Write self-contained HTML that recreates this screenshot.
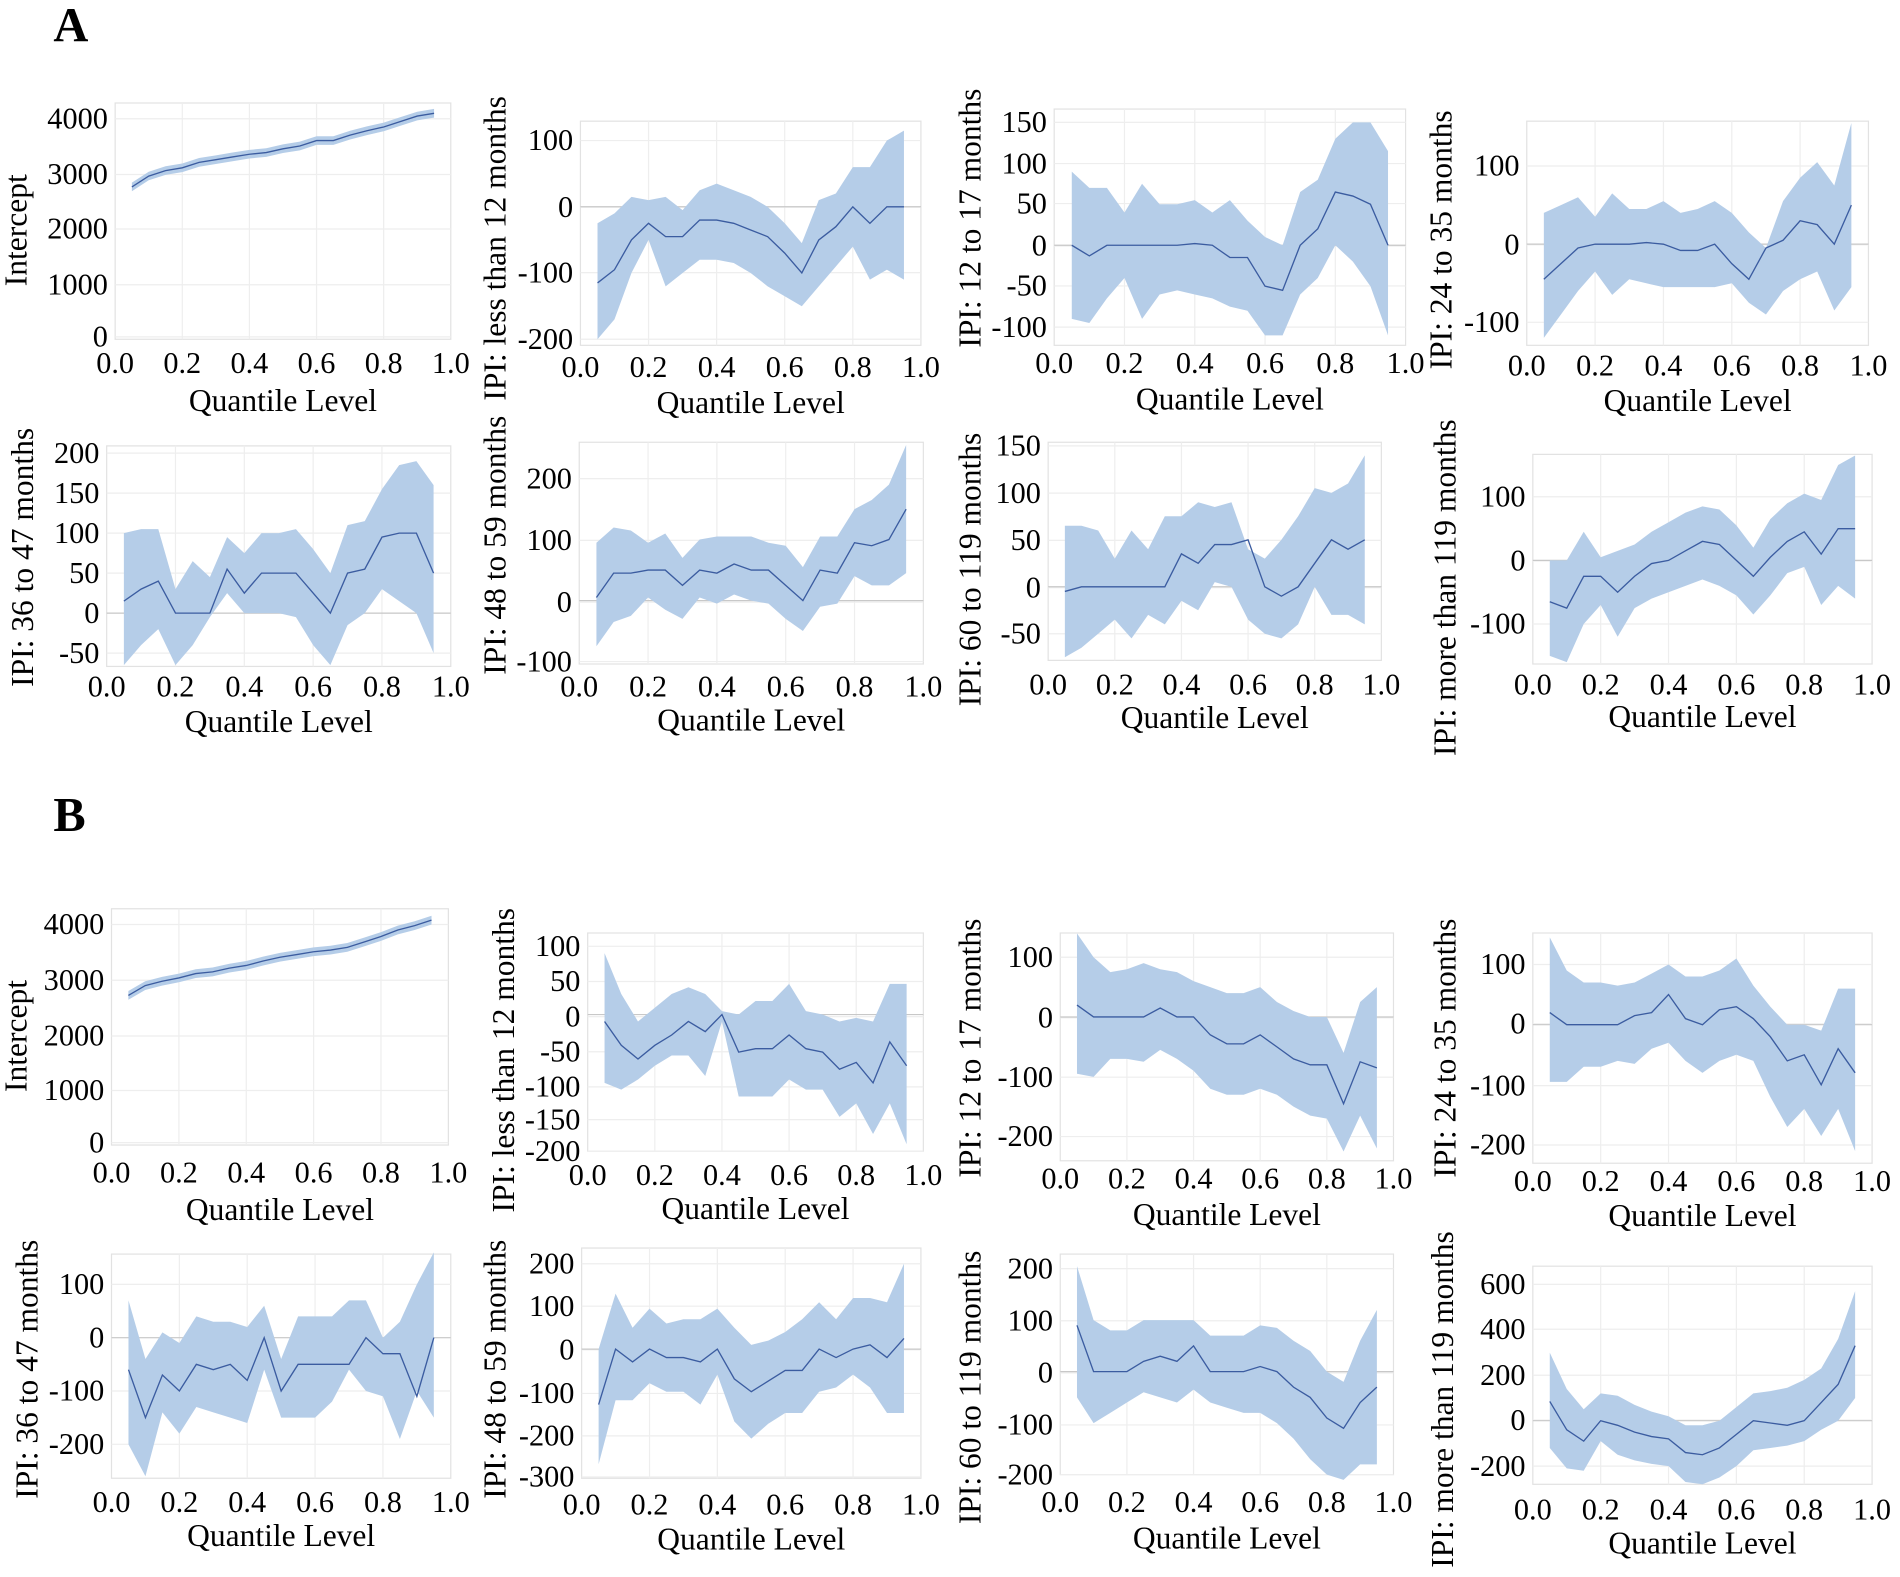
<!DOCTYPE html>
<html><head><meta charset="utf-8">
<style>html,body{margin:0;padding:0;background:#fff}svg{display:block}svg text{font-family:"Liberation Serif",serif}</style>
</head><body>
<svg id="s" xmlns="http://www.w3.org/2000/svg" width="1900" height="1577" viewBox="0 0 1568 1301.5" font-family="Liberation Serif, serif">
<text x="44" y="34" font-size="40" font-weight="bold">A</text>
<text x="44" y="686" font-size="40" font-weight="bold">B</text>
</svg>
<script>
var P=[
{x0:95,x1:372,yt:85,yb:280,t:[[4000,98],[3000,144],[2000,189],[1000,235],[0,278]],lab:"Intercept",lx:13,ly:190,xt:300,xl:331,
m:[2750,2950,3050,3100,3200,3250,3300,3350,3380,3450,3500,3600,3600,3700,3780,3850,3950,4050,4100],w:80},
{x0:479,x1:760,yt:100,yb:285,t:[[100,116],[0,171],[-100,225],[-200,280]],lab:"IPI: less than 12 months",lx:408,ly:205,xt:303,xl:333,
m:[-115,-95,-50,-25,-45,-45,-20,-20,-25,-35,-45,-70,-100,-50,-30,0,-25,0,0],
lo:[-200,-170,-100,-50,-120,-100,-80,-80,-85,-100,-120,-135,-150,-120,-90,-60,-110,-95,-110],
hi:[-25,-10,15,10,15,-5,25,35,25,15,0,-25,-55,10,20,60,60,100,115]},
{x0:870,x1:1160,yt:90,yb:285,t:[[150,101],[100,135],[50,168],[0,203],[-50,236],[-100,270]],lab:"IPI: 12 to 17 months",lx:800,ly:180,xt:300,xl:330,
m:[0,-13,0,0,0,0,0,2,0,-15,-15,-50,-55,0,20,65,60,50,0],
lo:[-90,-95,-65,-40,-90,-60,-55,-60,-65,-75,-80,-110,-110,-60,-40,0,-20,-50,-110],
hi:[90,70,70,40,75,50,50,55,40,55,30,10,0,65,80,130,150,150,115]},
{x0:1260,x1:1542,yt:100,yb:285,t:[[100,137],[0,202],[-100,266]],lab:"IPI: 24 to 35 months",lx:1189,ly:198,xt:302,xl:331,
m:[-45,-25,-5,0,0,0,2,0,-8,-8,0,-25,-45,-5,5,30,25,0,50],
lo:[-120,-90,-60,-35,-65,-45,-50,-55,-55,-55,-55,-50,-75,-90,-60,-45,-35,-85,-55],
hi:[40,50,60,35,65,45,45,55,40,45,55,40,15,-5,55,85,105,75,155]},
{x0:88,x1:372,yt:368,yb:550,t:[[200,374],[150,407],[100,440],[50,473],[0,506],[-50,539]],lab:"IPI: 36 to 47 months",lx:18,ly:460,xt:567,xl:596,
m:[15,30,40,0,0,0,55,25,50,50,50,25,0,50,55,95,100,100,50],
lo:[-65,-40,-20,-65,-40,-5,25,0,0,0,-5,-40,-65,-15,0,30,15,0,-50],
hi:[100,105,105,30,65,45,95,75,100,100,105,80,50,110,115,155,185,190,160]},
{x0:478,x1:762,yt:365,yb:548,t:[[200,395],[100,446],[0,497],[-100,546]],lab:"IPI: 48 to 59 months",lx:408,ly:450,xt:567,xl:595,
m:[5,45,45,50,50,25,50,45,60,50,50,25,0,50,45,95,90,100,150],
lo:[-75,-35,-25,5,-15,-30,5,-5,10,0,-5,-30,-50,-10,-5,40,25,25,45],
hi:[95,120,115,95,110,70,100,105,105,105,95,90,55,105,105,150,165,190,255]},
{x0:865,x1:1140,yt:365,yb:545,t:[[150,368],[100,407],[50,446],[0,485],[-50,523]],lab:"IPI: 60 to 119 months",lx:800,ly:470,xt:565,xl:593,
m:[-5,0,0,0,0,0,0,35,25,45,45,50,0,-10,0,25,50,40,50],
lo:[-75,-65,-50,-35,-55,-30,-40,-15,-25,5,0,-35,-50,-55,-40,0,-30,-30,-40],
hi:[65,65,60,30,60,40,75,75,90,85,90,40,30,50,75,105,100,110,140]},
{x0:1265,x1:1545,yt:375,yb:548,t:[[100,410],[0,463],[-100,515]],lab:"IPI: more than 119 months",lx:1192,ly:485,xt:565,xl:592,
m:[-65,-75,-25,-25,-50,-25,-5,0,15,30,25,0,-25,5,30,45,10,50,50],
lo:[-150,-160,-100,-70,-120,-75,-60,-50,-40,-30,-40,-55,-85,-55,-20,-10,-70,-40,-60],
hi:[0,0,45,5,15,25,45,60,75,85,80,55,20,65,90,105,95,150,165]},
{x0:92,x1:370,yt:750,yb:945,t:[[4000,763],[3000,809],[2000,855],[1000,900],[0,943]],lab:"Intercept",lx:13,ly:855,xt:968,xl:999,
m:[2700,2880,2960,3020,3100,3130,3200,3250,3330,3400,3450,3500,3530,3580,3680,3780,3900,3980,4080],w:80},
{x0:485,x1:762,yt:770,yb:950,t:[[100,781],[50,810],[0,839],[-50,868],[-100,897],[-150,924],[-200,950]],lab:"IPI: less than 12 months",lx:415,ly:875,xt:970,xl:998,
m:[-10,-45,-65,-45,-30,-10,-25,0,-55,-50,-50,-30,-50,-55,-80,-70,-100,-40,-75],
lo:[-100,-110,-95,-75,-60,-60,-90,-10,-120,-120,-120,-95,-110,-110,-150,-130,-175,-130,-190],
hi:[90,30,-10,10,30,40,30,5,0,20,20,45,5,0,-10,-5,-10,45,45]},
{x0:875,x1:1150,yt:770,yb:958,t:[[100,790],[0,840],[-100,889],[-200,938]],lab:"IPI: 12 to 17 months",lx:800,ly:865,xt:973,xl:1003,
m:[20,0,0,0,0,15,0,0,-30,-45,-45,-30,-50,-70,-80,-80,-145,-75,-85],
lo:[-95,-100,-70,-70,-75,-55,-70,-90,-120,-130,-130,-120,-130,-150,-165,-170,-225,-165,-220],
hi:[140,100,75,80,90,80,75,60,50,40,40,50,25,10,0,0,-60,25,50]},
{x0:1265,x1:1545,yt:770,yb:960,t:[[100,796],[0,845],[-100,896],[-200,945]],lab:"IPI: 24 to 35 months",lx:1192,ly:865,xt:975,xl:1004,
m:[20,0,0,0,0,15,20,50,10,0,25,30,10,-20,-60,-50,-100,-40,-80],
lo:[-95,-95,-70,-70,-60,-65,-40,-30,-60,-80,-60,-50,-60,-120,-170,-140,-185,-140,-210],
hi:[145,90,70,70,65,70,85,100,80,80,90,110,65,30,0,0,-10,60,60]},
{x0:92,x1:372,yt:1035,yb:1220,t:[[100,1060],[0,1104],[-100,1148],[-200,1192]],lab:"IPI: 36 to 47 months",lx:22,ly:1130,xt:1240,xl:1268,
m:[-60,-150,-70,-100,-50,-60,-50,-80,0,-100,-50,-50,-50,-50,0,-30,-30,-110,0],
lo:[-200,-260,-140,-180,-130,-140,-150,-160,-60,-150,-150,-150,-120,-60,-100,-110,-190,-100,-150],
hi:[70,-40,10,-10,40,30,30,20,60,-40,40,40,40,70,70,0,30,100,160]},
{x0:480,x1:760,yt:1030,yb:1220,t:[[200,1043],[100,1078],[0,1114],[-100,1150],[-200,1185],[-300,1219]],lab:"IPI: 48 to 59 months",lx:408,ly:1130,xt:1242,xl:1271,
m:[-130,0,-30,0,-20,-20,-30,0,-70,-100,-75,-50,-50,0,-20,0,10,-20,25],
lo:[-270,-120,-120,-80,-100,-100,-130,-60,-170,-210,-175,-150,-150,-100,-90,-60,-90,-150,-150],
hi:[0,130,50,95,60,70,70,95,50,10,20,40,70,110,70,120,120,110,200]},
{x0:875,x1:1150,yt:1035,yb:1217,t:[[200,1047],[100,1090],[0,1133],[-100,1176],[-200,1217]],lab:"IPI: 60 to 119 months",lx:800,ly:1145,xt:1240,xl:1270,
m:[90,0,0,0,20,30,20,50,0,0,0,10,0,-30,-50,-90,-110,-60,-30],
lo:[-50,-100,-80,-60,-40,-50,-60,-35,-60,-70,-80,-80,-100,-130,-170,-200,-210,-180,-180],
hi:[205,100,80,80,100,100,100,100,70,70,70,90,85,60,40,0,-20,60,120]},
{x0:1265,x1:1545,yt:1045,yb:1225,t:[[600,1060],[400,1097],[200,1135],[0,1172],[-200,1210]],lab:"IPI: more than 119 months",lx:1190,ly:1155,xt:1246,xl:1274,
m:[85,-40,-90,0,-20,-50,-70,-80,-140,-150,-120,-60,0,-10,-20,0,80,160,330],
lo:[-120,-210,-220,-90,-150,-175,-190,-200,-270,-280,-250,-200,-130,-120,-110,-90,-40,0,100],
hi:[300,140,50,120,110,70,40,20,-20,-20,0,60,120,130,145,180,230,360,570]}
];
var s=document.getElementById('s'),h='';
P.forEach(function(p){
 var a=p.t[0],b=p.t[p.t.length-1];
 function Y(v){return a[1]+(v-a[0])*(b[1]-a[1])/(b[0]-a[0]);}
 function X(q){return p.x0+q*(p.x1-p.x0);}
 h+='<rect x="'+p.x0+'" y="'+p.yt+'" width="'+(p.x1-p.x0)+'" height="'+(p.yb-p.yt)+'" fill="none" stroke="#e2e2e2" stroke-width="1"/>';
 for(var i=1;i<5;i++)h+='<line x1="'+X(i/5)+'" x2="'+X(i/5)+'" y1="'+p.yt+'" y2="'+p.yb+'" stroke="#eeeeee"/>';
 p.t.forEach(function(t){h+='<line x1="'+p.x0+'" x2="'+p.x1+'" y1="'+t[1]+'" y2="'+t[1]+'" stroke="#eeeeee"/>';
  h+='<text x="'+(p.x0-6)+'" y="'+(t[1]+8)+'" font-size="25" text-anchor="end">'+t[0]+'</text>';});
 if(!p.w)h+='<line x1="'+p.x0+'" x2="'+p.x1+'" y1="'+Y(0)+'" y2="'+Y(0)+'" stroke="#c8c8c8"/>';
 var lo=p.lo||p.m.map(function(v){return v-p.w}),hi=p.hi||p.m.map(function(v){return v+p.w});
 var pts=[],ln=[];
 for(var i=0;i<19;i++){var q=0.05+i*0.05;pts.push(X(q).toFixed(1)+','+Y(hi[i]).toFixed(1));ln.push(X(q).toFixed(1)+','+Y(p.m[i]).toFixed(1));}
 for(var i=18;i>=0;i--){var q=0.05+i*0.05;pts.push(X(q).toFixed(1)+','+Y(lo[i]).toFixed(1));}
 h+='<polygon points="'+pts.join(' ')+'" fill="#b5cde8"/>';
 h+='<polyline points="'+ln.join(' ')+'" fill="none" stroke="#3b5ca0" stroke-width="1.1"/>';
 ['0.0','0.2','0.4','0.6','0.8','1.0'].forEach(function(l,i){h+='<text x="'+X(i/5)+'" y="'+(p.xt+8)+'" font-size="25" text-anchor="middle">'+l+'</text>';});
 h+='<text x="'+((p.x0+p.x1)/2)+'" y="'+(p.xl+8)+'" font-size="26" text-anchor="middle">Quantile Level</text>';
 h+='<text transform="translate('+(p.lx+9)+','+p.ly+') rotate(-90)" font-size="26" text-anchor="middle">'+p.lab+'</text>';
});
s.insertAdjacentHTML('beforeend',h);
</script>
</body></html>
